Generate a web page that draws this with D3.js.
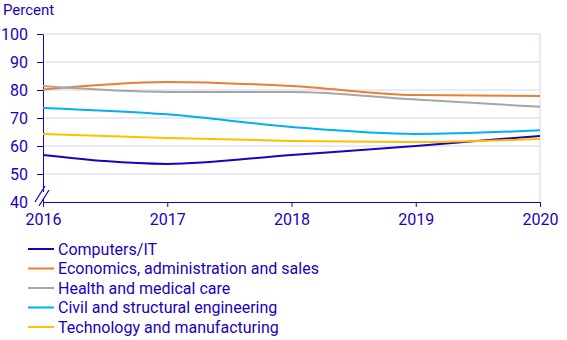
<!DOCTYPE html>
<html>
<head>
<meta charset="utf-8">
<script src="https://cdn.jsdelivr.net/npm/d3@7"></script>
<style>
  body { margin: 0; background: #fff; }
  text { font-family: Roboto, "Noto Sans", sans-serif; }
</style>
</head>
<body>
<div id="chart"></div>
<script>
// Data
const years = [2016, 2017, 2018, 2019, 2020];
const yTicks = [40, 50, 60, 70, 80, 90, 100];

const seriesNames = [
    'Computers/IT',
    'Economics, administration and sales',
    'Health and medical care',
    'Civil and structural engineering',
    'Technology and manufacturing'
];
const computersIT = [56.8, 53.6, 56.8, 60.0, 63.6];
const economics   = [80.2, 82.9, 81.4, 78.2, 77.9];
const health      = [81.4, 79.3, 79.3, 76.6, 74.0];
const civil       = [73.6, 71.3, 66.8, 64.3, 65.6];
const technology  = [64.3, 62.9, 61.8, 61.4, 62.5];
const seriesValues = [computersIT, economics, health, civil, technology];
const seriesColors = ['#1e00be', '#ed7d31', '#a6a6a6', '#00b0f0', '#ffc000'];

const W = 567, H = 340;
const ink = '#1e00be';
const grid = '#d2d2f0';
const margin = {left: 43, right: 27, top: 34, bottom: 138};

let svg = d3.select('#chart').append('svg')
    .attr('width', W)
    .attr('height', H);

let x = d3.scaleLinear()
    .domain(d3.extent(years))
    .range([margin.left, W - margin.right]);
let y = d3.scaleLinear()
    .domain([40, 100])
    .range([H - margin.bottom, margin.top]);

// gridlines
svg.append('g').selectAll('line')
    .data(yTicks.filter(d => d > 40)).enter()
    .append('line')
    .attr('x1', x.range()[0]).attr('x2', x.range()[1])
    .attr('y1', d => y(d)).attr('y2', d => y(d))
    .attr('stroke', grid).attr('stroke-width', 1);
svg.append('line')
    .attr('x1', x.range()[1]).attr('x2', x.range()[1])
    .attr('y1', y(100)).attr('y2', y(40))
    .attr('stroke', grid).attr('stroke-width', 1);

// y axis
let yAxis = svg.append('g')
    .attr('transform', `translate(${x.range()[0]},0)`)
    .call(d3.axisLeft(y).tickValues(yTicks).tickSize(6).tickSizeOuter(0));
yAxis.select('.domain').attr('stroke', ink);
yAxis.selectAll('.tick line').attr('stroke', ink);
yAxis.selectAll('.tick').filter(d => d == 40).select('line').remove();
yAxis.selectAll('.tick text')
    .attr('fill', ink).attr('font-size', 16).attr('x', -15)
    .attr('font-family', 'Roboto, sans-serif');

// x axis
let xAxis = svg.append('g')
    .attr('transform', `translate(0,${y(40)})`)
    .call(d3.axisBottom(x).tickValues(years).tickFormat(d3.format('d')).tickSize(5).tickSizeOuter(0));
xAxis.select('.domain').attr('stroke', ink);
xAxis.selectAll('.tick line').attr('stroke', ink);
xAxis.selectAll('.tick text')
    .attr('fill', ink).attr('font-size', 16).attr('y', 12)
    .attr('font-family', 'Roboto, sans-serif');

// axis break marks
let bx = x.range()[0], by = y(40) - 7;
svg.append('rect')
    .attr('x', bx - 3).attr('y', by - 3).attr('width', 6).attr('height', 6)
    .attr('fill', '#fff');
[-2, 2].forEach(o => {
    svg.append('line')
        .attr('x1', bx - 6 + o).attr('y1', by + 9 + o)
        .attr('x2', bx + 4 + o).attr('y2', by - 7 + o)
        .attr('stroke', ink).attr('stroke-width', 1.2);
});

// lines
let line = d3.line()
    .x((d, i) => x(years[i]))
    .y(d => y(d))
    .curve(d3.curveMonotoneX);

svg.append('g').selectAll('path')
    .data(seriesValues).enter()
    .append('path')
    .attr('d', line)
    .attr('fill', 'none')
    .attr('stroke', (d, i) => seriesColors[i])
    .attr('stroke-width', 2);

// title
svg.append('text')
    .attr('x', 3).attr('y', 15)
    .attr('fill', ink).attr('font-size', 15)
    .text('Percent');

// legend
let lg = svg.append('g').selectAll('g')
    .data(seriesNames).enter()
    .append('g')
    .attr('transform', (d, i) => `translate(28,${249 + i * 19.5})`);
lg.append('line')
    .attr('x1', 0).attr('x2', 26)
    .attr('stroke', (d, i) => seriesColors[i])
    .attr('stroke-width', 2);
lg.append('text')
    .attr('x', 30).attr('dy', '0.35em')
    .attr('fill', ink).attr('font-size', 16)
    .text(d => d);
</script>
</body>
</html>
